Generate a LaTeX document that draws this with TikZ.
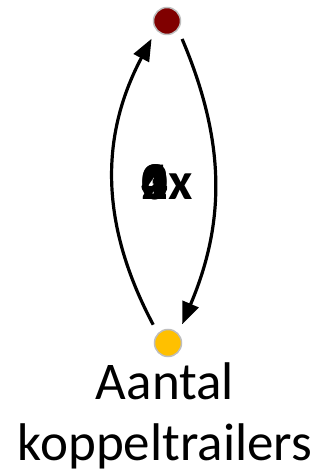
\documentclass[tikz,border=0pt]{standalone}
\usepackage{fontspec}
\setmainfont{Carlito}
\definecolor{stockred}{RGB}{128, 0, 0}
\definecolor{stockgold}{RGB}{255, 192, 0}
\definecolor{rimgray}{RGB}{190, 190, 190}
\usetikzlibrary{arrows.meta, positioning}

\begin{document}
\begin{tikzpicture}[x=1pt, y=1pt,
    dot/.style={circle, draw=rimgray, line width=1.5pt, minimum size=27pt, inner sep=0pt, outer sep=10pt},
    loopline/.style={line width=3.2pt, -{Triangle[length=22pt, width=17pt]}}]
  \useasboundingbox (0, 0) rectangle (322, 476);

  % Stocks
  \node[dot, fill=stockred] (top) at (167, 455) {};
  \node[dot, fill=stockgold] (bot) at (168, 133) {};

  % Label under the lower stock
  \node[font=\fontsize{53}{57}\selectfont, align=center, anchor=base] (name) at (165, 16) {Aantal\\[4pt]koppeltrailers};

  % Loop
  \draw[loopline] (bot.129) to[out=118, in=242] (top.229);
  \draw[loopline] (top.-50) to[out=-67, in=67] (bot.53);
  \node[font=\fontsize{53}{57}\selectfont\bfseries] (count) at (167, 294) {\makebox[0pt][l]{0}\makebox[0pt][l]{1}\makebox[0pt][l]{2}\makebox[0pt][l]{3}4x};
\end{tikzpicture}
\end{document}
